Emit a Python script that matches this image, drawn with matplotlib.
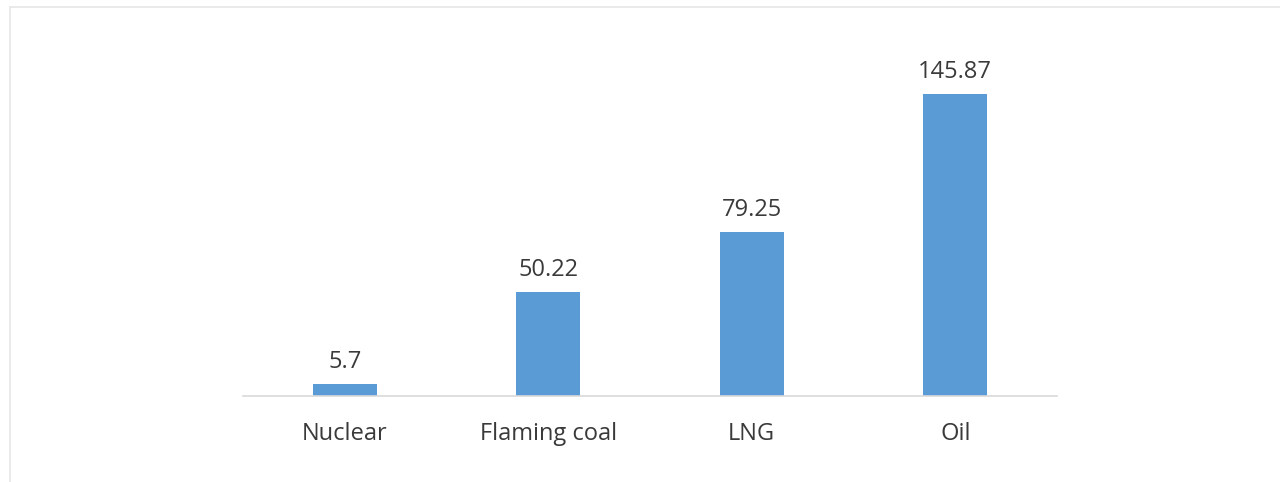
import matplotlib.pyplot as plt
from matplotlib.lines import Line2D

categories = ['Nuclear', 'Flaming coal', 'LNG', 'Oil']
values = [5.7, 50.22, 79.25, 145.87]
value_labels = ['5.7', '50.22', '79.25', '145.87']

plt.rcParams['font.family'] = ['Open Sans', 'DejaVu Sans']

fig = plt.figure(figsize=(12.8, 4.82), dpi=100)
ax = fig.add_axes([243 / 1280, 1 - 396 / 482, 814 / 1280, 336 / 482])

x = range(len(categories))
bars = ax.bar(x, values, width=0.315, color='#5B9BD5')

# value labels above each bar
for bar, lab in zip(bars, value_labels):
    ax.annotate(lab, (bar.get_x() + bar.get_width() / 2, bar.get_height()),
                xytext=(0, 7), textcoords='offset points',
                ha='center', va='bottom', fontsize=17, color='#3A3A3A')

ax.set_xlim(-0.5, 3.5)
ax.set_ylim(0, 162.3)
ax.set_xticks(list(x))
ax.set_xticklabels(categories, fontsize=17, color='#3A3A3A')
ax.tick_params(axis='x', length=0, pad=19)
ax.set_yticks([])
for side in ['top', 'right', 'left']:
    ax.spines[side].set_visible(False)
ax.spines['bottom'].set_color('#D9D9D9')
ax.spines['bottom'].set_linewidth(1.2)

# light frame on top and left edge of the picture
fig.add_artist(Line2D([10 / 1280, 1], [1 - 7 / 482, 1 - 7 / 482],
                      transform=fig.transFigure, color='#E6E6E6', lw=1.2))
fig.add_artist(Line2D([10 / 1280, 10 / 1280], [0, 1 - 7 / 482],
                      transform=fig.transFigure, color='#E6E6E6', lw=1.2))

fig.savefig('out.png', dpi=100, facecolor='white')
